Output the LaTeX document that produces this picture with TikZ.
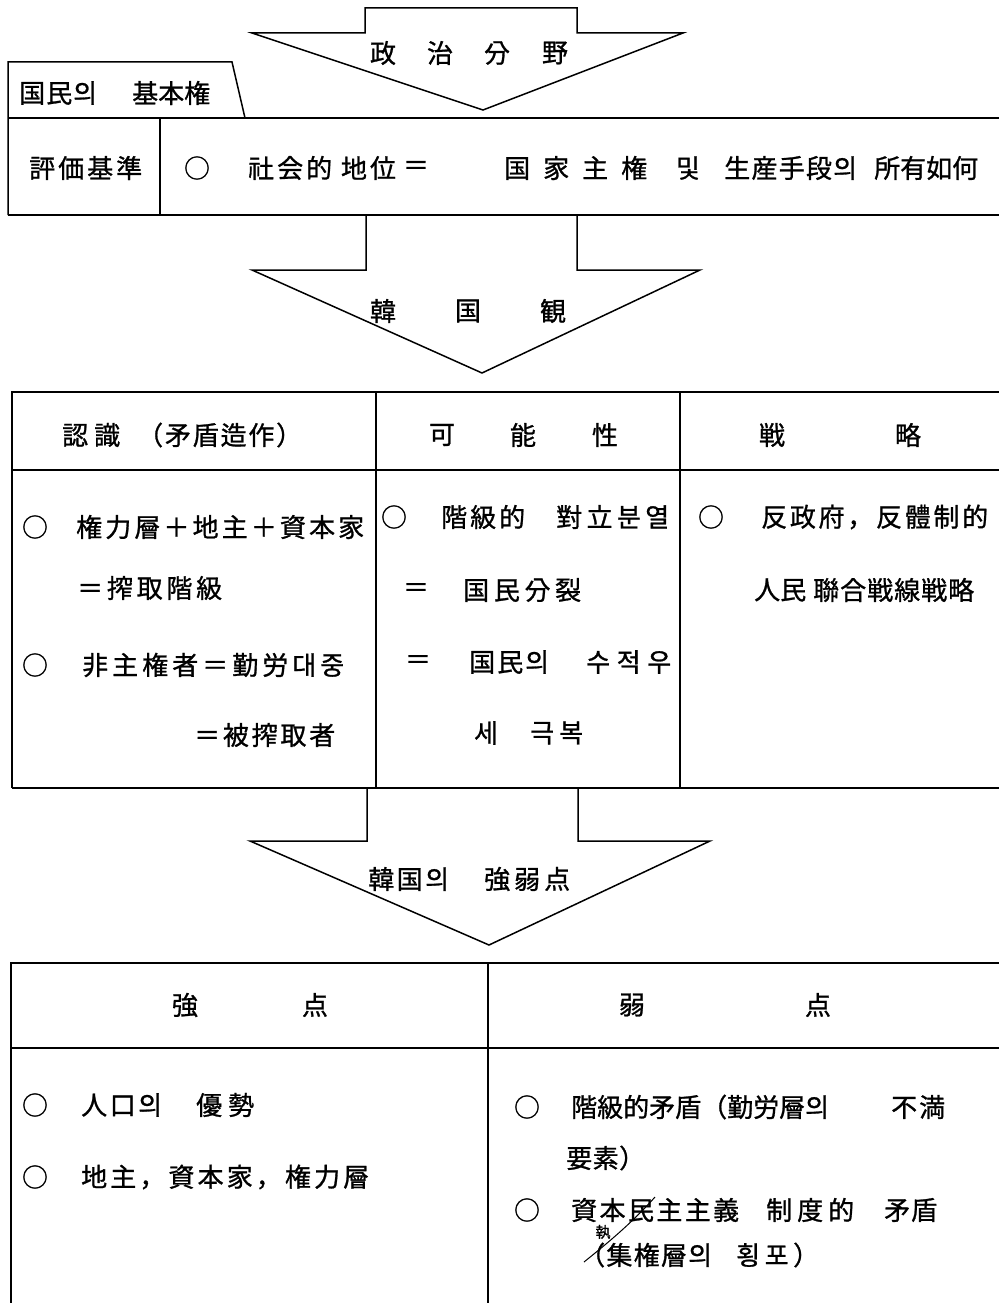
\documentclass[tikz,border=0pt]{standalone}
\usepackage{fontspec}
\newfontfamily\cjk[FakeBold=1]{Noto Sans CJK KR}
\def\ilp#1#2\endilp{#1\if\relax\detokenize{#2}\relax\else\hfil\ilp#2\endilp\fi}
\newcommand\bx[2]{\makebox[#1pt][s]{\ilp#2\endilp}}
\begin{document}
\begin{tikzpicture}[x=1pt,y=-1pt,
  ln/.style={line width=1.5pt, line join=miter},
  t/.style={font=\cjk\fontsize{26}{26}\selectfont, inner sep=0pt, anchor=west},
  c/.style={font=\cjk\fontsize{26}{26}\selectfont, inner sep=0pt},
  hw/.style={font=\cjk\fontsize{15}{15}\selectfont, inner sep=0pt}]
\useasboundingbox (0,0) rectangle (999,1303);

% ---------- arrow 1
\draw[ln] (365,8) -- (365,33) -- (252,33) -- (483,110) -- (683,33) -- (577,33) -- (577,8) -- cycle;
\node[c] (a1a) at (383,53) {政};
\node[c] (a1b) at (440,53) {治};
\node[c] (a1c) at (497,53) {分};
\node[c] (a1d) at (555,53) {野};

% ---------- table 1
\draw[ln] (8,215) -- (8,62) -- (232,62) -- (245,118);
\draw[ln] (8,118) -- (999,118);
\draw[ln] (8,215) -- (999,215);
\draw[ln] (160,118) -- (160,215);
\node[t] (tab1) at (19,93) {\bx{78}{国民의}};
\node[t] (tab2) at (132,93) {\bx{77}{基本権}};
\node[t] (crit) at (29,168) {\bx{113}{評価基準}};
\node[c] (o0) at (197,168) {○};
\node[t] (r1a) at (248,168) {\bx{84}{社会的}};
\node[c] (r1b) at (354,168) {地};
\node[c] (r1c) at (383,168) {位};
\node[c] (r1d) at (416,168) {＝};
\node[t] (r1e) at (504,168) {\bx{143}{国家主権}};
\node[c] (r1f) at (688,168) {및};
\node[t] (r1g) at (724,168) {\bx{133}{生産手段의}};
\node[t] (r1h) at (874,168) {\bx{101}{所有如何}};

% ---------- arrow 2
\draw[ln] (366,215) -- (366,270) -- (252,270) -- (482,373) -- (700,270) -- (577,270) -- (577,215);
\node[c] (a2a) at (383,311) {韓};
\node[c] (a2b) at (468,311) {国};
\node[c] (a2c) at (553,311) {観};

% ---------- table 2
\draw[ln] (12,788) -- (12,392) -- (999,392);
\draw[ln] (12,470) -- (999,470);
\draw[ln] (12,788) -- (999,788);
\draw[ln] (376,392) -- (376,788);
\draw[ln] (680,392) -- (680,788);
\node[t] (h1a) at (62,435) {\bx{58}{認識}};
\node[t] (h1b) at (137,435) {\bx{165}{（矛盾造作）}};
\node[c] (h2a) at (442,435) {可};
\node[c] (h2b) at (523,435) {能};
\node[c] (h2c) at (605,435) {性};
\node[c] (h3a) at (772,435) {戦};
\node[c] (h3b) at (908,435) {略};

\node[c] (o1) at (35,527) {○};
\node[t] (c1a) at (76,527) {\bx{288}{権力層＋地主＋資本家}};
\node[t] (c1b) at (77,588) {\bx{145}{＝搾取階級}};
\node[c] (o2) at (35,665) {○};
\node[t] (c1c) at (82,665) {\bx{262}{非主権者＝勤労대중}};
\node[t] (c1d) at (194,735) {\bx{141}{＝被搾取者}};

\node[c] (o3) at (394,517) {○};
\node[t] (c2a) at (441,517) {\bx{84}{階級的}};
\node[t] (c2b) at (556,517) {\bx{113}{對立분열}};
\node[c] (c2c) at (416,590) {＝};
\node[t] (c2d) at (463,590) {\bx{118}{国民分裂}};
\node[c] (c2e) at (418,662) {＝};
\node[t] (c2f) at (469,662) {\bx{80}{国民의}};
\node[t] (c2g) at (586,662) {\bx{85}{수적우}};
\node[c] (c2h) at (486,733) {세};
\node[t] (c2i) at (530,733) {\bx{53}{극복}};

\node[c] (o4) at (711,517) {○};
\node[t] (c3a) at (761,517) {\bx{227}{反政府，反體制的}};
\node[t] (c3b) at (754,590) {\bx{52}{人民}};
\node[t] (c3c) at (813,590) {\bx{161}{聯合戦線戦略}};

% ---------- arrow 3
\draw[ln] (367,788) -- (367,841) -- (250,841) -- (489,945) -- (710,841) -- (578,841) -- (578,788);
\node[t] (a3a) at (368,879) {\bx{81}{韓国의}};
\node[t] (a3b) at (484,879) {\bx{86}{強弱点}};

% ---------- table 3
\draw[ln] (11,1303) -- (11,963) -- (999,963);
\draw[ln] (11,1048) -- (999,1048);
\draw[ln] (488,963) -- (488,1303);
\node[c] (s1) at (185,1005) {強};
\node[c] (s2) at (315,1005) {点};
\node[c] (w1) at (632,1005) {弱};
\node[c] (w2) at (818,1005) {点};

\node[c] (o5) at (35,1105) {○};
\node[t] (d1a) at (81,1105) {\bx{81}{人口의}};
\node[t] (d1b) at (196,1105) {\bx{58}{優勢}};
\node[c] (o6) at (35,1177) {○};
\node[t] (d1c) at (81,1177) {\bx{288}{地主，資本家，権力層}};

\node[c] (o7) at (527,1107) {○};
\node[t] (d2a) at (571,1107) {\bx{251}{階級的矛盾（勤労層의}};
\node[t] (d2b) at (891,1107) {\bx{54}{不満}};
\node[t] (d2c) at (566,1158) {\bx{79}{要素）}};
\node[c] (o8) at (527,1210) {○};
\node[t] (d2d) at (571,1210) {\bx{168}{資本民主主義}};
\node[t] (d2e) at (766,1210) {\bx{88}{制度的}};
\node[t] (d2f) at (884,1210) {\bx{53}{矛盾}};
\node[t] (d2g) at (579,1255) {\bx{133}{（集権層의}};
\node[t] (d2h) at (736,1255) {\bx{83}{횡포）}};
\node[hw] (fix) at (603,1232) {執};
\draw[line width=1pt] (655,1197) .. controls (630,1225) and (605,1245) .. (584,1262);
\end{tikzpicture}
\end{document}
